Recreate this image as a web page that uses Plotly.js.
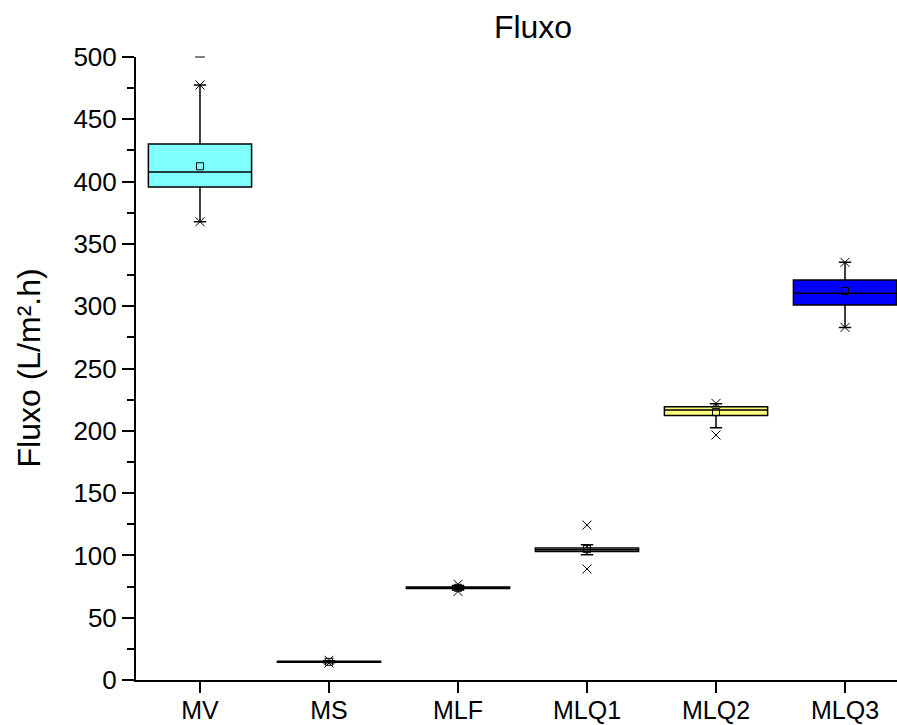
<!DOCTYPE html>
<html>
<head>
<meta charset="utf-8">
<script src="https://cdn.plot.ly/plotly-3.0.1.min.js"></script>
<style>html,body{margin:0;padding:0;background:#fff;} #chart{width:897px;height:725px;}</style>
</head>
<body>
<div id="chart"></div>
<script>
// Data
var categories = ['MV', 'MS', 'MLF', 'MLQ1', 'MLQ2', 'MLQ3'];
var q1Vals = [395.7, 14.2, 73.4, 103.2, 212.3, 301.0];
var medianVals = [407.7, 14.6, 74.0, 104.5, 216.7, 310.3];
var q3Vals = [430.2, 15.0, 74.6, 105.9, 219.4, 321.0];
var lowerWhisker = [367.8, 13.8, 72.2, 100.5, 202.5, 283.0];
var upperWhisker = [477.5, 15.4, 75.8, 108.5, 221.7, 335.2];
var meanVals = [412.3, 14.6, 74.0, 105.0, 215.0, 312.2];
var p1Vals = [367.8, 13.6, 71.0, 89.1, 196.6, 283.0];
var p99Vals = [477.5, 15.8, 76.8, 124.3, 222.0, 335.2];
var maxMarks = [500.0, null, null, null, null, null];
var boxColors = ['#80FFFF', '#FFFFFF', '#FFFFFF', '#FFFFFF', '#FFFF80', '#0000FF'];
var yTickVals = [0, 50, 100, 150, 200, 250, 300, 350, 400, 450, 500];

var FONT = 'Arial, "Liberation Sans", sans-serif';
var traces = [];
for (var i = 0; i < categories.length; i++) {
  traces.push({
    type: 'box',
    x: [categories[i]],
    q1: [q1Vals[i]],
    median: [medianVals[i]],
    q3: [q3Vals[i]],
    lowerfence: [lowerWhisker[i]],
    upperfence: [upperWhisker[i]],
    width: 0.8,
    whiskerwidth: 0.12,
    fillcolor: boxColors[i],
    line: {color: '#000000', width: 1.5},
    boxpoints: false,
    hoverinfo: 'skip',
    showlegend: false
  });
}
traces.push({
  type: 'scatter', mode: 'markers', x: categories, y: meanVals,
  marker: {symbol: 'square-open', size: 7, color: '#000000', line: {width: 1, color: '#000000'}},
  cliponaxis: false, showlegend: false, hoverinfo: 'skip'
});
traces.push({
  type: 'scatter', mode: 'markers', x: categories.concat(categories), y: p1Vals.concat(p99Vals),
  marker: {symbol: 'x-thin-open', size: 9, color: '#000000', line: {width: 1, color: '#000000'}},
  cliponaxis: false, showlegend: false, hoverinfo: 'skip'
});
traces.push({
  type: 'scatter', mode: 'markers', x: categories, y: maxMarks,
  marker: {symbol: 'line-ew-open', size: 7, color: '#000000', line: {width: 1, color: '#000000'}},
  cliponaxis: false, showlegend: false, hoverinfo: 'skip'
});

var layout = {
  width: 897, height: 725,
  paper_bgcolor: '#ffffff', plot_bgcolor: '#ffffff',
  margin: {l: 136, r: 0, t: 57, b: 45, pad: 0},
  font: {family: FONT, color: '#000000', size: 26},
  title: {text: 'Fluxo', font: {family: FONT, size: 32, color: '#000000'},
          xref: 'paper', x: 0.5217, xanchor: 'center', yref: 'container', y: 1 - 27/725, yanchor: 'middle'},
  xaxis: {
    type: 'category', categoryorder: 'array', categoryarray: categories,
    range: [-0.496, 5.403],
    showline: true, linewidth: 2, linecolor: '#000000',
    ticks: 'outside', ticklen: 11, tickwidth: 2, tickcolor: '#000000',
    ticklabelstandoff: -4,
    showgrid: false, zeroline: false,
    tickfont: {family: FONT, size: 25, color: '#000000'}
  },
  yaxis: {
    range: [0, 500],
    tickvals: yTickVals, ticktext: yTickVals.map(String),
    showline: true, linewidth: 2, linecolor: '#000000',
    ticks: 'outside', ticklen: 12, tickwidth: 2, tickcolor: '#000000',
    minor: {dtick: 25, tick0: 0, ticks: 'outside', ticklen: 7, tickwidth: 2, tickcolor: '#000000', showgrid: false},
    showgrid: false, zeroline: false,
    tickfont: {family: FONT, size: 26, color: '#000000'}
  },
  annotations: [{
    text: 'Fluxo (L/m².h)', xref: 'paper', yref: 'paper',
    x: (28 - 136) / 761, y: 0.5, xanchor: 'center', yanchor: 'middle',
    textangle: -90, showarrow: false,
    font: {family: FONT, size: 32, color: '#000000'}
  }]
};

Plotly.newPlot('chart', traces, layout, {staticPlot: true, displayModeBar: false});
</script>
</body>
</html>
